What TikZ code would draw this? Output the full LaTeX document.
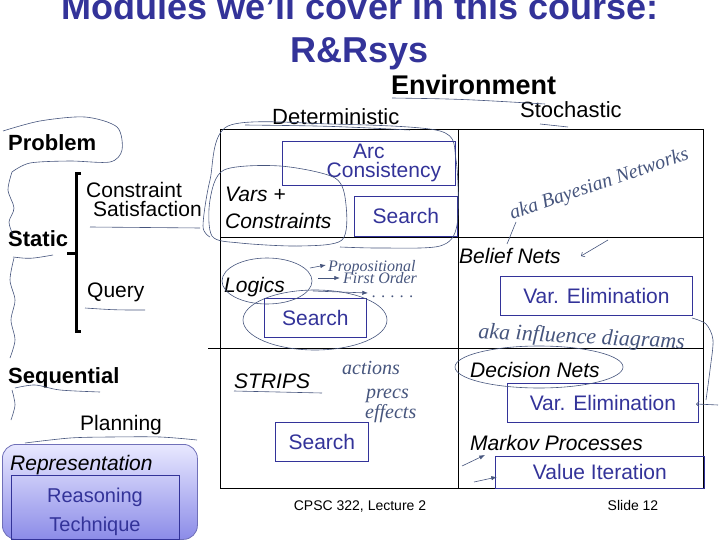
\documentclass[tikz,border=0pt]{standalone}
\usepackage{fontspec}
\setmainfont{Liberation Sans}
\newfontfamily\handfont{Liberation Serif}
\usetikzlibrary{arrows.meta,calc}
\definecolor{slideblue}{RGB}{51,51,153}
\definecolor{inkblue}{RGB}{70,85,125}
\definecolor{lavtop}{RGB}{232,232,255}
\definecolor{lavbot}{RGB}{140,140,232}

\begin{document}
\begin{tikzpicture}[x=1pt,y=-1pt,>=Latex,
  body/.style={font=\fontsize{21}{23}\selectfont,inner sep=0pt,anchor=base west},
  head/.style={font=\fontsize{22}{24}\selectfont\bfseries,inner sep=0pt,anchor=base west},
  lbl/.style={font=\fontsize{21}{23}\selectfont\itshape,inner sep=0pt,anchor=base west},
  algbox/.style={draw=slideblue,line width=0.8pt,text=slideblue,align=center,
    font=\fontsize{21}{23}\selectfont,inner sep=0pt,anchor=north west},
  ink/.style={draw=inkblue,line width=0.6pt},
  inktext/.style={text=inkblue,font=\handfont\itshape\fontsize{18}{19}\selectfont,inner sep=0pt}]

  \useasboundingbox (0,0) rectangle (720,540);

  % title
  \node[font=\fontsize{36}{40}\selectfont\bfseries,text=slideblue,anchor=base] (title) at (360,20) {Modules we'll cover in this course:};
  \node[font=\fontsize{36}{40}\selectfont\bfseries,text=slideblue,anchor=base] (subtitle) at (360,63) {R\&Rsys};

  % grid
  \draw[line width=0.8pt] (220,129) -- (703,129);
  \draw[line width=0.8pt] (220,237) -- (703,237);
  \draw[line width=0.8pt] (208,348) -- (703,348);
  \draw[line width=0.8pt] (220,488) -- (703,488);
  \draw[line width=0.8pt] (220,129) -- (220,488);
  \draw[line width=0.8pt] (458,129) -- (458,488);
  \draw[line width=0.8pt] (703,129) -- (703,488);

  % headings
  \node[font=\fontsize{27}{29}\selectfont\bfseries,inner sep=0pt,anchor=base west] (env) at (391,95) {Environment};
  \node[body,font=\fontsize{22}{24}\selectfont] (det) at (272,125) {Deterministic};
  \node[body,font=\fontsize{22}{24}\selectfont] (stoch) at (520,118) {Stochastic};
  \node[head] (problem) at (8,151) {Problem};
  \node[head] (static) at (8,247) {Static};
  \node[head] (seq) at (8,383) {Sequential};
  \node[body] (csp1) at (86,197) {Constraint};
  \node[body] (csp2) at (93,217) {Satisfaction};
  \node[body] (query) at (87,297) {Query};
  \node[body] (planning) at (80,430) {Planning};

  % brace
  \draw[line width=3pt] (81,174) -- (76,174) -- (76,331) -- (81,331);
  \draw[line width=3pt] (76,253) -- (67,253);

  % representations
  \node[lbl] (vars) at (225,202) {Vars +};
  \node[lbl] (cons) at (225,229) {Constraints};
  \node[lbl] (logics) at (224,292) {Logics};
  \node[lbl] (belief) at (459,263) {Belief Nets};
  \node[lbl] (strips) at (234,388) {STRIPS};
  \node[lbl] (decision) at (470,377) {Decision Nets};
  \node[lbl] (markov) at (470,450) {Markov Processes};

  % reasoning techniques
  \node[algbox,minimum width=173,minimum height=44] (arc) at (282,141) {Arc\\[-4pt]\hspace*{30pt}Consistency};
  \node[algbox,minimum width=103,minimum height=40] (cspsearch) at (354,196) {Search};
  \node[algbox,minimum width=102,minimum height=39] (logsearch) at (264,298) {Search};
  \node[algbox,minimum width=192,minimum height=39] (beliefve) at (500,276) {Var. Elimination};
  \node[algbox,minimum width=93,minimum height=39] (stripssearch) at (275,422) {Search};
  \node[algbox,minimum width=191,minimum height=39] (decisionve) at (507,383) {Var. Elimination};
  \node[algbox,minimum width=209,minimum height=32] (valueit) at (495,456) {Value Iteration};

  % legend
  \node[draw=slideblue!70,line width=0.8pt,rounded corners=14,top color=lavtop,bottom color=lavbot,
    minimum width=195,minimum height=95,anchor=north west] (legend) at (2,444) {};
  \node[lbl] (repr) at (10,470) {Representation};
  \node[draw=slideblue,line width=0.6pt,minimum width=168,minimum height=64,anchor=north west] (reason) at (11,475) {};
  \node[text=slideblue,align=center,font=\fontsize{20}{29}\selectfont,inner sep=0pt] (reasontext) at (95,512) {Reasoning\\Technique};

  % footer
  \node[font=\fontsize{14}{16}\selectfont,anchor=base] (footer) at (360,510) {CPSC 322, Lecture 2};
  \node[font=\fontsize{14}{16}\selectfont,anchor=base] (slideno) at (633,510) {Slide 12};

  % hand-drawn marks
  \draw[ink] plot[smooth] coordinates {(3,131) (40,121) (85,117) (117,127) (122,150) (110,162) (70,161) (30,163) (12,172)};
  \draw[ink] plot[smooth] coordinates {(12,172) (8,190) (14,208) (9,222) (13,235)};
  \draw[ink] plot[smooth] coordinates {(14,258) (10,280) (15,300) (11,320) (15,340) (10,358)};
  \draw[ink] plot[smooth] coordinates {(12,390) (15,405) (11,420)};
  \draw[ink] (13,257) .. controls (30,259) .. (53,255);
  \draw[ink] plot[smooth] coordinates {(15,388) (35,385) (60,390) (100,392)};
  \draw[ink] (90,227) -- (200,228);
  \draw[ink] (85,308) .. controls (115,310) .. (145,310);
  \draw[ink] (392,98) .. controls (460,99) .. (545,104);
  \draw[ink] (245,125) .. controls (330,126) .. (410,130);
  \draw[ink] (540,124) -- (568,127);
  \draw[ink] (234,391) -- (322,393);
  \draw[ink] plot[smooth] coordinates {(25,443) (70,438) (110,437) (160,437) (197,440)};
  \draw[ink] plot[smooth cycle] coordinates {(224,170) (280,166) (335,178) (346,205) (342,240) (300,246) (240,243) (212,236) (210,200)};
  \draw[ink] plot[smooth] coordinates {(210,237) (203,226) (210,180) (228,126) (330,124) (440,131) (456,160) (457,225) (440,246) (380,248) (340,247)};
  \draw[ink] (267,281) ellipse (45 and 23);
  \draw[ink] (315,320) ellipse (72 and 30);
  \draw[ink] (539,367) ellipse (84 and 21);

  % hand-written notes
  \node[inktext,anchor=base west,font=\handfont\itshape\fontsize{16}{17}\selectfont] (prop) at (328,271) {Propositional};
  \node[inktext,anchor=base west,font=\handfont\itshape\fontsize{16}{17}\selectfont] (fol) at (343,283) {First Order};
  \node[inktext,anchor=base west,font=\handfont\itshape\fontsize{16}{17}\selectfont] (etc) at (372,297) {. . . . .};
  \draw[ink,->] (310,268) -- (326,265);
  \draw[ink,->] (318,278) -- (340,278);
  \draw[ink,->] (313,291) -- (368,293);
  \node[inktext,anchor=base west,rotate=19,font=\handfont\itshape\fontsize{20}{22}\selectfont] (bayes) at (512,220) {aka Bayesian Networks};
  \draw[ink] (516,222) -- (507,244);
  \draw[ink,-{Straight Barb}] (608,240) -- (581,256);
  \node[inktext,anchor=base west,rotate=-3,font=\handfont\itshape\fontsize{22}{24}\selectfont] (influence) at (478,338) {aka influence diagrams};
  \draw[ink] plot[smooth] coordinates {(692,318) (706,324) (713,340) (710,370) (706,400)};
  \draw[ink,-{Straight Barb}] (718,405) -- (696,404);
  \node[inktext,anchor=base west,font=\handfont\itshape\fontsize{20}{22}\selectfont] (actions) at (342,374) {actions};
  \node[inktext,anchor=base west,font=\handfont\itshape\fontsize{20}{22}\selectfont] (precs) at (366,398) {precs};
  \node[inktext,anchor=base west,font=\handfont\itshape\fontsize{20}{22}\selectfont] (effects) at (365,418) {effects};
  \draw[ink,->] (462,466) -- (485,455);
  \draw[ink,->] (474,482) -- (497,477);
\end{tikzpicture}
\end{document}
